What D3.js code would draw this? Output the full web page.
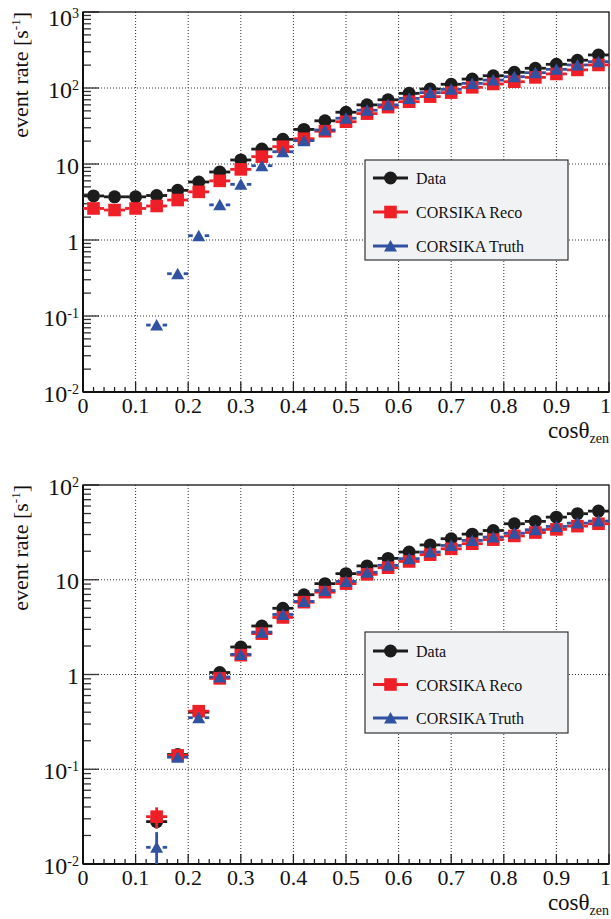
<!DOCTYPE html>
<html><head><meta charset="utf-8">
<script src="https://cdn.jsdelivr.net/npm/d3@7"></script>
<style>
body{margin:0;background:#fff}
svg{display:block}
</style></head>
<body><svg id="c" width="611" height="919"></svg>
<script>
// ---- data ----
const binCenters = [0.02,0.06,0.10,0.14,0.18,0.22,0.26,0.30,0.34,0.38,0.42,0.46,0.50,0.54,0.58,0.62,0.66,0.70,0.74,0.78,0.82,0.86,0.90,0.94,0.98];
const binWidth = 0.04;
const seriesNames = ["Data","CORSIKA Reco","CORSIKA Truth"];
const seriesColors = ["#1c1c1c","#ee1f27","#3052a0"];

const topData  = [3.8,3.7,3.7,3.85,4.5,5.8,7.85,11.3,15.7,21.1,28.5,37,48,60,70,85,97,112,131,145,161,182,205,232,272];
const topReco  = [2.6,2.48,2.6,2.8,3.36,4.3,6.0,8.5,12.5,16.9,21.5,27,36,46,56,66,77,87,102,113,121,138,153,173,201];
const topTruth = [null,null,null,0.076,0.36,1.14,2.9,5.4,9.5,14.5,20.3,28,40,51,60,73,87,96,115,127,141,159,176,201,222];

const botData  = [null,null,null,0.028,0.143,0.40,1.05,1.95,3.25,5.0,6.95,9.1,11.6,14.0,16.8,19.6,23.3,27.1,30.3,33.1,39,41.3,45.8,49.8,53];
const botReco  = [null,null,null,0.0316,0.14,0.41,0.91,1.6,2.7,4.0,5.8,7.4,9.1,11.4,13.4,15.6,18.4,21.2,24,26.5,29,31.5,34,36.8,39];
const botTruth = [null,null,null,0.015,0.134,0.35,0.94,1.63,2.8,4.3,5.9,7.7,9.6,12.0,14.2,16.7,19.6,23,26,28.2,31,33.7,36.5,39.6,41.6];
// vertical errors (only visible ones)
const botDataErr  = [0,0,0,0.002,0,0,0,0,0,0,0,0,0,0,0,0,0,0,0,0,0,0,0,0,0];
const botRecoErr  = [0,0,0,0.008,0,0,0,0,0,0,0,0,0,0,0,0,0,0,0,0,0,0,0,0,0];
const botTruthErr = [0,0,0,0.0067,0,0,0,0,0,0,0,0,0,0,0,0,0,0,0,0,0,0,0,0,0];

const xTickLabels = ["0","0.1","0.2","0.3","0.4","0.5","0.6","0.7","0.8","0.9","1"];
const yTitle = "event rate [s";
const xTitle = "cosθ";

const FONT = "'Liberation Serif', 'Times New Roman', Times, 'DejaVu Serif', serif";
const svg = d3.select("#c").attr("font-family",FONT).style("font-family",FONT);

function drawPanel(cfg){
  const L=83, R=609, T=cfg.top, B=cfg.bottom;
  const x = d3.scaleLinear([0,1],[L,R]);
  const y = d3.scaleLog(cfg.domain,[B,T]);
  const g = svg.append("g").attr("font-family",FONT);
  const clipId = "clip"+cfg.id;
  g.append("clipPath").attr("id",clipId).append("rect").attr("x",L).attr("y",T).attr("width",R-L).attr("height",B-T);

  // grid
  const gridX = d3.range(1,10).map(d=>d/10);
  g.selectAll(".gx").data(gridX).join("line")
    .attr("x1",d=>x(d)).attr("x2",d=>x(d)).attr("y1",T).attr("y2",B)
    .attr("stroke","#333").attr("stroke-width",1).attr("stroke-dasharray","1,2");
  const lo=Math.log10(cfg.domain[0]), hi=Math.log10(cfg.domain[1]);
  const decades = d3.range(lo,hi+1).map(e=>Math.pow(10,e));
  g.selectAll(".gy").data(decades.slice(1,-1)).join("line")
    .attr("x1",L).attr("x2",R).attr("y1",d=>y(d)).attr("y2",d=>y(d))
    .attr("stroke","#333").attr("stroke-width",1).attr("stroke-dasharray","1,2");

  // x ticks
  const xt = d3.range(0,51).map(i=>({v:i*0.02, major:i%5===0}));
  g.selectAll(".xt").data(xt).join("line")
    .attr("x1",d=>x(d.v)).attr("x2",d=>x(d.v)).attr("y1",B).attr("y2",d=>B-(d.major?10:5))
    .attr("stroke","#222").attr("stroke-width",1.3);
  // y ticks
  const yt=[];
  for(let e=lo;e<hi;e++){for(let m=1;m<10;m++){yt.push({v:m*Math.pow(10,e),major:m===1});}}
  yt.push({v:Math.pow(10,hi),major:true});
  g.selectAll(".yt").data(yt).join("line")
    .attr("x1",L).attr("x2",d=>L+(d.major?16:8)).attr("y1",d=>y(d.v)).attr("y2",d=>y(d.v))
    .attr("stroke","#333").attr("stroke-width",1.3);

  // frame
  g.append("rect").attr("x",L).attr("y",T).attr("width",R-L).attr("height",B-T)
    .attr("fill","none").attr("stroke","#111").attr("stroke-width",1.3);
  g.append("line").attr("x1",L).attr("x2",R).attr("y1",B).attr("y2",B).attr("stroke","#111").attr("stroke-width",2);
  g.append("line").attr("x1",L).attr("x2",L).attr("y1",T).attr("y2",B).attr("stroke","#111").attr("stroke-width",2);

  // x labels
  g.selectAll(".xl").data(xTickLabels).join("text")
    .attr("x",(d,i)=>i===10?611:x(i/10)).attr("y",B+21)
    .attr("text-anchor",(d,i)=>i===10?"end":"middle")
    .attr("font-size",22).attr("fill","#111").text(d=>d);
  // y labels
  decades.forEach((v,k)=>{
    const e=Math.round(Math.log10(v));
    const isTopEdge = (k===decades.length-1 && y(v)<20);
    const base = y(v)+(isTopEdge?14:9.5);
    const t=g.append("text").attr("x",79).attr("y",base).attr("text-anchor","end").attr("font-size",24).attr("fill","#111");
    if(e===0){t.text("1");}
    else if(e===1){t.text("10");}
    else {
      t.append("tspan").text("10");
      t.append("tspan").attr("dy",-8).attr("font-size",14).text(String(e));
    }
  });

  // axis titles
  const yt_ = g.append("text").attr("transform",`translate(28,${T}) rotate(-90)`)
    .attr("text-anchor","end").attr("font-size",22).attr("fill","#111");
  yt_.append("tspan").text(yTitle);
  yt_.append("tspan").attr("dy",-8).attr("font-size",13).text("-1");
  yt_.append("tspan").attr("dy",8).text("]");
  const xt_ = g.append("text").attr("x",R).attr("y",B+46).attr("text-anchor","end").attr("font-size",23).attr("fill","#111");
  xt_.append("tspan").text(xTitle);
  xt_.append("tspan").attr("dy",5).attr("font-size",14).text("zen");

  // series
  const gap=6;
  cfg.series.forEach((s,si)=>{
    const col=seriesColors[si];
    const pts=binCenters.map((c,i)=>({c,v:s.values[i],e:s.err?s.err[i]:0})).filter(d=>d.v!==null);
    const sg=g.append("g").attr("clip-path",`url(#${clipId})`);
    pts.forEach(d=>{
      const cx=x(d.c), cy=y(d.v);
      sg.append("line").attr("x1",x(d.c-binWidth/2)).attr("x2",cx-gap).attr("y1",cy).attr("y2",cy).attr("stroke",col).attr("stroke-width",2.8);
      sg.append("line").attr("x1",cx+gap).attr("x2",x(d.c+binWidth/2)).attr("y1",cy).attr("y2",cy).attr("stroke",col).attr("stroke-width",2.8);
      if(d.e>0){
        const v0=Math.max(d.v-d.e,cfg.domain[0]*0.5);
        sg.append("line").attr("x1",cx).attr("x2",cx).attr("y1",y(d.v+d.e)).attr("y2",y(v0)).attr("stroke",col).attr("stroke-width",2.8);
      }
      marker(sg,si,cx,cy,col);
    });
  });

  // legend
  const lg=cfg.legend;
  g.append("rect").attr("x",365).attr("y",lg.top).attr("width",203).attr("height",lg.h)
    .attr("fill","#f1f2f4").attr("stroke","#333").attr("stroke-width",1.2);
  seriesNames.forEach((n,i)=>{
    const cy=lg.top+lg.first+i*lg.step;
    g.append("line").attr("x1",373).attr("x2",408).attr("y1",cy).attr("y2",cy).attr("stroke",seriesColors[i]).attr("stroke-width",2.8);
    marker(g,i,390.5,cy,seriesColors[i]);
    g.append("text").attr("x",416).attr("y",cy+6).attr("font-size",16).attr("fill","#111").text(n);
  });
}

function marker(sel,type,cx,cy,col){
  if(type===0){
    sel.append("circle").attr("cx",cx).attr("cy",cy).attr("r",6.5).attr("fill",col);
  } else if(type===1){
    sel.append("rect").attr("x",cx-6.3).attr("y",cy-6.3).attr("width",12.6).attr("height",12.6).attr("fill",col);
  } else {
    sel.append("path").attr("d",`M${cx},${cy-6} L${cx+6.5},${cy+5.5} L${cx-6.5},${cy+5.5} Z`).attr("fill",col);
  }
}

drawPanel({id:"a",top:12,bottom:392,domain:[1e-2,1e3],
  series:[{values:topData},{values:topReco},{values:topTruth}],
  legend:{top:160,h:100,first:18,step:34}});
drawPanel({id:"b",top:485,bottom:864,domain:[1e-2,1e2],
  series:[{values:botData,err:botDataErr},{values:botReco,err:botRecoErr},{values:botTruth,err:botTruthErr}],
  legend:{top:632,h:101,first:19,step:33.5}});
</script></body></html>
